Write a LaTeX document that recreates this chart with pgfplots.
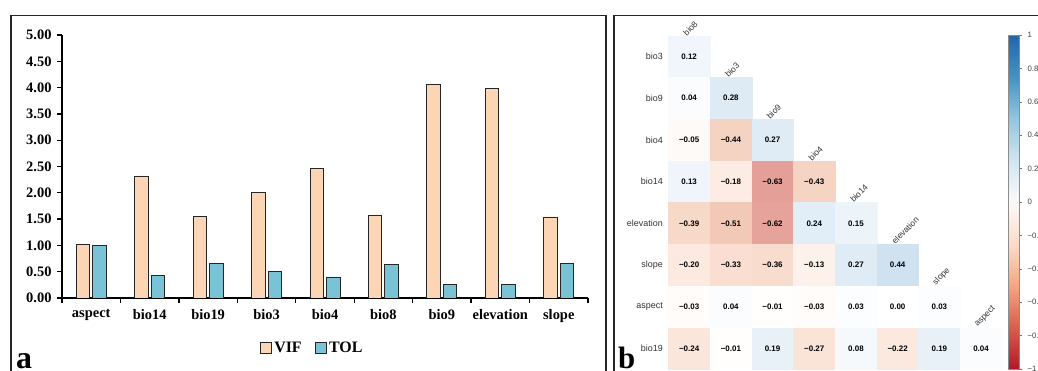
\documentclass[border=0pt]{standalone}
\usepackage{pgfplots}
\pgfplotsset{compat=1.18}
\usepackage{pgfplotstable}
\usepackage{fontspec}
\setmainfont{Liberation Serif}
\newfontfamily\arial{Liberation Sans}
\definecolor{vifc}{RGB}{252,213,181}
\definecolor{tolc}{RGB}{122,194,214}
\pgfplotsset{
  colormap={cellmap}{rgb255(0cm)=(205,100,100); rgb255(3.7cm)=(228,160,152); rgb255(5cm)=(243,203,186); rgb255(6cm)=(247,216,200); rgb255(8cm)=(252,234,225); rgb255(10cm)=(255,255,255); rgb255(11.5cm)=(236,244,250); rgb255(12.8cm)=(222,235,245); rgb255(14.4cm)=(208,226,240); rgb255(20cm)=(160,192,222)},
  colormap={rdbufull}{rgb255(0cm)=(178,24,43); rgb255(1cm)=(214,96,77); rgb255(2cm)=(244,165,130); rgb255(3cm)=(253,219,199); rgb255(4cm)=(250,250,250); rgb255(5cm)=(209,229,240); rgb255(6cm)=(146,197,222); rgb255(7cm)=(67,147,195); rgb255(8cm)=(33,102,172)}
}
\pgfplotstableread{
x y v lab
0 0 0.12 0.12
0 1 0.04 0.04
1 1 0.28 0.28
0 2 -0.05 −0.05
1 2 -0.44 −0.44
2 2 0.27 0.27
0 3 0.13 0.13
1 3 -0.18 −0.18
2 3 -0.63 −0.63
3 3 -0.43 −0.43
0 4 -0.39 −0.39
1 4 -0.51 −0.51
2 4 -0.62 −0.62
3 4 0.24 0.24
4 4 0.15 0.15
0 5 -0.20 −0.20
1 5 -0.33 −0.33
2 5 -0.36 −0.36
3 5 -0.13 −0.13
4 5 0.27 0.27
5 5 0.44 0.44
0 6 -0.03 −0.03
1 6 0.04 0.04
2 6 -0.01 −0.01
3 6 -0.03 −0.03
4 6 0.03 0.03
5 6 0.00 0.00
6 6 0.03 0.03
0 7 -0.24 −0.24
1 7 -0.01 −0.01
2 7 0.19 0.19
3 7 -0.27 −0.27
4 7 0.08 0.08
5 7 -0.22 −0.22
6 7 0.19 0.19
7 7 0.04 0.04
}\cells
\begin{document}
\begin{tikzpicture}
\useasboundingbox (0,0) rectangle (1038bp,371bp);
\clip (0,0) rectangle (1038bp,371bp);
\draw[line width=1.5bp, black!85] (11bp,-5bp) -- (11bp,355.5bp) -- (606bp,355.5bp) -- (606bp,-5bp);
\draw[line width=1.5bp, black!85] (614bp,-5bp) -- (614bp,355.5bp) -- (1045bp,355.5bp);
\node[anchor=base west, font=\bfseries\fontsize{32}{32}\selectfont, inner sep=0pt] at (16bp,3bp) {a};
\node[anchor=base west, font=\bfseries\fontsize{31}{31}\selectfont, inner sep=0pt] at (618bp,3bp) {b};

% panel a
\begin{axis}[at={(62bp,73bp)}, anchor=south west, scale only axis,
  width=526bp, height=263bp,
  ybar=3bp, bar width=13.5bp,
  xmin=-0.5, xmax=8.5, ymin=0, ymax=5,
  axis x line*=bottom, axis y line*=left,
  axis line style={line width=1.5bp, black},
  xtick={0,...,8},
  xticklabels={aspect,bio14,bio19,bio3,bio4,bio8,bio9,elevation,slope},
  major x tick style={draw=none},
  minor xtick={-0.5,0.5,...,8.5},
  minor x tick style={line width=1.3bp, black},
  minor tick length=5bp, major tick length=5bp,
  tick align=outside,
  y tick style={line width=1.3bp, black},
  ytick={0,0.5,...,5},
  tick label style={font=\bfseries\fontsize{14.5}{16}\selectfont},
  xticklabel style={yshift=-3bp},
  yticklabel style={/pgf/number format/.cd, fixed, fixed zerofill, precision=2, assume math mode=true, /tikz/.cd, xshift=-2bp},
  legend style={at={(0.376,-0.190)}, anchor=west, draw=none, fill=none, inner sep=0pt,
    legend columns=2, font=\bfseries\fontsize{16}{16}\selectfont,
    /tikz/every even column/.append style={column sep=11bp}},
  legend image code/.code={\draw[#1, line width=0.8bp] (0bp,-5.5bp) rectangle (11.5bp,6bp);},
]
\addplot[fill=vifc, draw=black!85, line width=0.9bp] coordinates {(0,1.01) (1,2.32) (2,1.55) (3,2.01) (4,2.47) (5,1.56) (6,4.06) (7,3.98) (8,1.54)};
\addplot[fill=tolc, draw=black!85, line width=0.9bp] coordinates {(0,0.99) (1,0.43) (2,0.65) (3,0.50) (4,0.40) (5,0.64) (6,0.25) (7,0.25) (8,0.65)};
\legend{VIF,TOL}
\end{axis}

% panel b heatmap
\begin{axis}[at={(668.3bp,1.7bp)}, anchor=south west, scale only axis,
  width=333.6bp, height=333.6bp, clip=false,
  xmin=-0.5, xmax=7.5, ymin=-0.5, ymax=7.5, y dir=reverse,
  axis line style={draw=none}, xtick=\empty, ytick={0,...,7},
  yticklabels={bio3,bio9,bio4,bio14,elevation,slope,aspect,bio19},
  major tick length=0pt,
  yticklabel style={font=\arial\fontsize{9}{10}\selectfont, text=black!80, xshift=-2bp},
  colormap name=cellmap, point meta min=-1, point meta max=1]
\addplot[scatter, only marks, mark=square*, mark size=20.85bp,
  scatter/use mapped color={draw=mapped color, fill=mapped color},
  mark options={line width=0.2bp}, point meta=explicit] table[x=x,y=y,meta=v]{\cells};
\addplot[draw=none, mark=none, nodes near coords, nodes near coords align=center,
  point meta=explicit symbolic,
  every node near coord/.append style={font=\arial\bfseries\fontsize{8}{9}\selectfont, text=black}]
  table[x=x,y=y,meta=lab]{\cells};
\node[rotate=45, anchor=south west, font=\arial\fontsize{8.5}{9}\selectfont, text=black!80, inner sep=1bp, xshift=-3bp] at (axis cs:0,-0.5) {bio8};
\node[rotate=45, anchor=south west, font=\arial\fontsize{8.5}{9}\selectfont, text=black!80, inner sep=1bp, xshift=-3bp] at (axis cs:1,0.5) {bio3};
\node[rotate=45, anchor=south west, font=\arial\fontsize{8.5}{9}\selectfont, text=black!80, inner sep=1bp, xshift=-3bp] at (axis cs:2,1.5) {bio9};
\node[rotate=45, anchor=south west, font=\arial\fontsize{8.5}{9}\selectfont, text=black!80, inner sep=1bp, xshift=-3bp] at (axis cs:3,2.5) {bio4};
\node[rotate=45, anchor=south west, font=\arial\fontsize{8.5}{9}\selectfont, text=black!80, inner sep=1bp, xshift=-3bp] at (axis cs:4,3.5) {bio14};
\node[rotate=45, anchor=south west, font=\arial\fontsize{8.5}{9}\selectfont, text=black!80, inner sep=1bp, xshift=-3bp] at (axis cs:5,4.5) {elevation};
\node[rotate=45, anchor=south west, font=\arial\fontsize{8.5}{9}\selectfont, text=black!80, inner sep=1bp, xshift=-3bp] at (axis cs:6,5.5) {slope};
\node[rotate=45, anchor=south west, font=\arial\fontsize{8.5}{9}\selectfont, text=black!80, inner sep=1bp, xshift=-3bp] at (axis cs:7,6.5) {aspect};
\end{axis}

% colorbar
\begin{axis}[at={(1008bp,2bp)}, anchor=south west, scale only axis,
  width=11bp, height=334bp, view={0}{90},
  xmin=0, xmax=1, ymin=-1, ymax=1,
  colormap name=rdbufull, point meta min=-1, point meta max=1,
  xtick=\empty,
  ytick={-1,-0.8,-0.6,-0.4,-0.2,0,0.2,0.4,0.6,0.8,1},
  yticklabels={−1,−0.8,−0.6,−0.4,−0.2,0,0.2,0.4,0.6,0.8,1},
  ytick pos=right, yticklabel pos=right, tick align=outside, major tick length=3bp,
  axis line style={draw=black!45, line width=0.6bp},
  y tick style={black!55, line width=0.5bp},
  yticklabel style={font=\arial\fontsize{7.8}{8}\selectfont, text=black!75, xshift=2bp},
  axis on top]
\addplot3[surf, shader=interp, point meta=y, mesh/rows=9, mesh/cols=2] coordinates {
(0,-1,0) (1,-1,0) (0,-0.75,0) (1,-0.75,0) (0,-0.5,0) (1,-0.5,0) (0,-0.25,0) (1,-0.25,0)
(0,0,0) (1,0,0) (0,0.25,0) (1,0.25,0) (0,0.5,0) (1,0.5,0) (0,0.75,0) (1,0.75,0) (0,1,0) (1,1,0)};
\end{axis}
\end{tikzpicture}
\end{document}
